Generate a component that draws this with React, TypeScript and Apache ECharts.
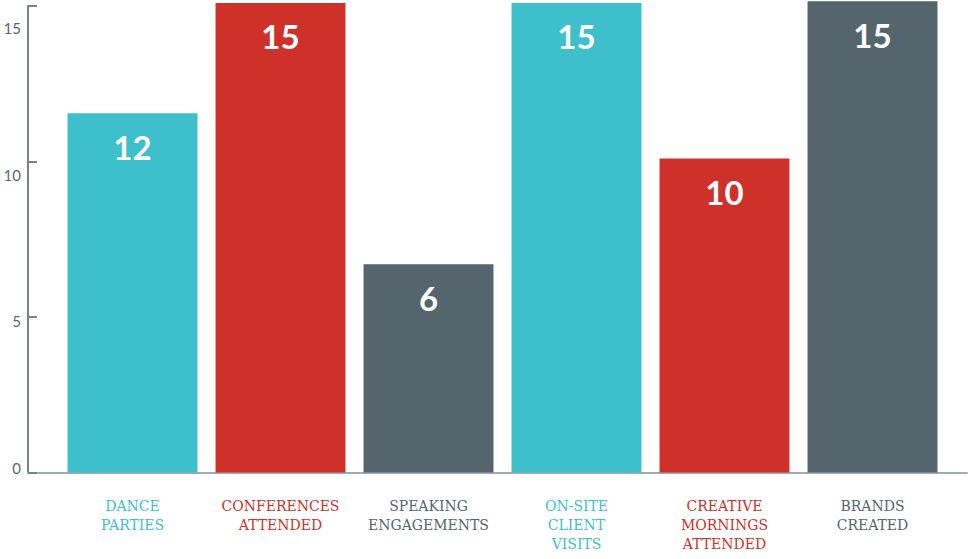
import React, { useEffect, useRef } from "react";
import * as echarts from "echarts";

const categories = [
  "DANCE\nPARTIES",
  "CONFERENCES\nATTENDED",
  "SPEAKING\nENGAGEMENTS",
  "ON-SITE\nCLIENT\nVISITS",
  "CREATIVE\nMORNINGS\nATTENDED",
  "BRANDS\nCREATED",
];
// bar heights as drawn in the picture
const barValues = [11.55, 15.1, 6.7, 15.1, 10.1, 15.15];
// numbers printed on the bars
const barLabels = [12, 15, 6, 15, 10, 15];
const barColors = ["#3dc0cc", "#ce3129", "#55656e", "#3dc0cc", "#ce3129", "#55656e"];
const yTicks = [0, 5, 10, 15];

export default function App() {
  const ref = useRef<HTMLDivElement>(null);
  useEffect(() => {
    const chart = echarts.init(ref.current!, null, { renderer: "svg" });
    const pad: Record<string, number[]> = {
      "15": [43, 0, 0, 0],
      "10": [26, 0, 0, 0],
      "5": [8, 0, 0, 0],
      "0": [0, 0, 9, 0],
    };
    const rich: Record<string, any> = {};
    yTicks.forEach((t) => {
      rich["t" + t] = {
        fontFamily: "Lato",
        fontSize: 15,
        color: "#5b6770",
        padding: pad[String(t)],
      };
    });
    chart.setOption({
      animation: false,
      grid: [
        { left: 58.5, right: 25.5, top: 6, bottom: 86.5 },
        { left: 28, right: 5, top: 6, bottom: 86.5 },
      ],
      xAxis: [
        {
          type: "category",
          gridIndex: 0,
          data: categories.map((c, i) => ({
            value: c,
            textStyle: { color: barColors[i] },
          })),
          axisLine: { show: false },
          axisTick: { show: false },
          axisLabel: {
            interval: 0,
            margin: 24,
            fontFamily: "DejaVu Serif",
            fontSize: 14,
            lineHeight: 19,
          },
        },
        {
          type: "value",
          gridIndex: 1,
          min: 0,
          max: 1,
          axisLine: { show: true, lineStyle: { color: "#a3abb0", width: 2 } },
          axisTick: { show: false },
          axisLabel: { show: false },
          splitLine: { show: false },
        },
      ],
      yAxis: [
        {
          type: "value",
          gridIndex: 0,
          min: 0,
          max: 15,
          show: false,
        },
        {
          type: "value",
          gridIndex: 1,
          min: 0,
          max: 15,
          interval: 5,
          axisLine: { show: true, lineStyle: { color: "#76838a", width: 2 } },
          axisTick: { show: true, inside: true, length: 9, lineStyle: { color: "#76838a", width: 2 } },
          splitLine: { show: false },
          axisLabel: {
            margin: 7,
            formatter: (v: number) => `{t${v}|${v}}`,
            rich,
          },
        },
      ],
      series: [
        {
          type: "bar",
          xAxisIndex: 0,
          yAxisIndex: 0,
          clip: false,
          barCategoryGap: "12.2%",
          data: barValues.map((v, i) => ({ value: v, itemStyle: { color: barColors[i] } })),
          label: {
            show: true,
            position: "insideTop",
            distance: 17,
            color: "#ffffff",
            fontFamily: "Lato",
            fontWeight: "bold",
            fontSize: 33,
            formatter: (p: any) => String(barLabels[p.dataIndex]),
          },
        },
      ],
    });
    return () => chart.dispose();
  }, []);
  return (
    <div
      ref={ref}
      style={{ position: "fixed", left: 0, top: 0, width: 972, height: 559, background: "#fff" }}
    />
  );
}
